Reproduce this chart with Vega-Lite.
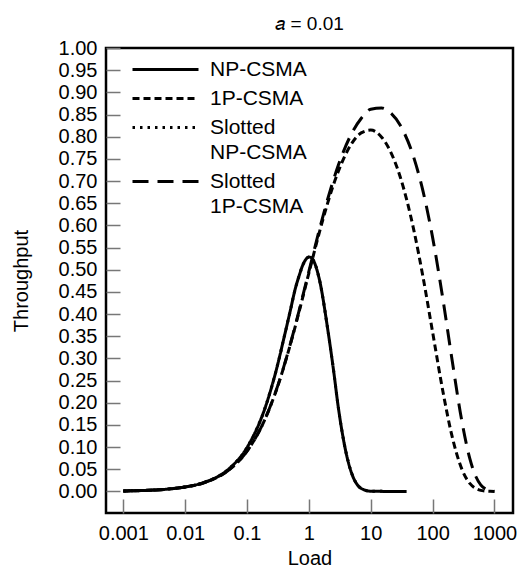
{
  "$schema": "https://vega.github.io/schema/vega-lite/v6.json",
  "width": 407,
  "height": 465,
  "autosize": "none",
  "padding": {"left": 106, "top": 48, "right": 7, "bottom": 57},
  "background": "white",
  "title": {"text": "𝑎 = 0.01", "fontSize": 19, "fontWeight": "normal", "font": "Liberation Sans", "offset": 4, "color": "black"},
  "data": {"values": [
    {"G": 0.001, "S": 0.001, "series": "Slotted NP-CSMA"},
    {"G": 0.002, "S": 0.002, "series": "Slotted NP-CSMA"},
    {"G": 0.005, "S": 0.005, "series": "Slotted NP-CSMA"},
    {"G": 0.01, "S": 0.01, "series": "Slotted NP-CSMA"},
    {"G": 0.02, "S": 0.02, "series": "Slotted NP-CSMA"},
    {"G": 0.05, "S": 0.0499, "series": "Slotted NP-CSMA"},
    {"G": 0.1, "S": 0.0989, "series": "Slotted NP-CSMA"},
    {"G": 0.2, "S": 0.1921, "series": "Slotted NP-CSMA"},
    {"G": 0.3, "S": 0.276, "series": "Slotted NP-CSMA"},
    {"G": 0.4, "S": 0.349, "series": "Slotted NP-CSMA"},
    {"G": 0.5, "S": 0.4072, "series": "Slotted NP-CSMA"},
    {"G": 0.6, "S": 0.456, "series": "Slotted NP-CSMA"},
    {"G": 0.7, "S": 0.4876, "series": "Slotted NP-CSMA"},
    {"G": 0.8, "S": 0.511, "series": "Slotted NP-CSMA"},
    {"G": 0.9, "S": 0.5238, "series": "Slotted NP-CSMA"},
    {"G": 1, "S": 0.5287, "series": "Slotted NP-CSMA"},
    {"G": 1.1, "S": 0.527, "series": "Slotted NP-CSMA"},
    {"G": 1.2, "S": 0.5193, "series": "Slotted NP-CSMA"},
    {"G": 1.5, "S": 0.4741, "series": "Slotted NP-CSMA"},
    {"G": 2, "S": 0.3691, "series": "Slotted NP-CSMA"},
    {"G": 2.5, "S": 0.274, "series": "Slotted NP-CSMA"},
    {"G": 3, "S": 0.1882, "series": "Slotted NP-CSMA"},
    {"G": 4, "S": 0.0867, "series": "Slotted NP-CSMA"},
    {"G": 5, "S": 0.038, "series": "Slotted NP-CSMA"},
    {"G": 6, "S": 0.016, "series": "Slotted NP-CSMA"},
    {"G": 7, "S": 0.0067, "series": "Slotted NP-CSMA"},
    {"G": 10, "S": 0.0005, "series": "Slotted NP-CSMA"},
    {"G": 20, "S": 0, "series": "Slotted NP-CSMA"},
    {"G": 38, "S": 0, "series": "Slotted NP-CSMA"},

    {"G": 0.001, "S": 0.001, "series": "NP-CSMA"},
    {"G": 0.002, "S": 0.002, "series": "NP-CSMA"},
    {"G": 0.005, "S": 0.005, "series": "NP-CSMA"},
    {"G": 0.01, "S": 0.01, "series": "NP-CSMA"},
    {"G": 0.02, "S": 0.02, "series": "NP-CSMA"},
    {"G": 0.05, "S": 0.0499, "series": "NP-CSMA"},
    {"G": 0.1, "S": 0.0989, "series": "NP-CSMA"},
    {"G": 0.2, "S": 0.1921, "series": "NP-CSMA"},
    {"G": 0.3, "S": 0.276, "series": "NP-CSMA"},
    {"G": 0.4, "S": 0.349, "series": "NP-CSMA"},
    {"G": 0.5, "S": 0.4072, "series": "NP-CSMA"},
    {"G": 0.6, "S": 0.456, "series": "NP-CSMA"},
    {"G": 0.7, "S": 0.4876, "series": "NP-CSMA"},
    {"G": 0.8, "S": 0.511, "series": "NP-CSMA"},
    {"G": 0.9, "S": 0.5238, "series": "NP-CSMA"},
    {"G": 1, "S": 0.5287, "series": "NP-CSMA"},
    {"G": 1.1, "S": 0.527, "series": "NP-CSMA"},
    {"G": 1.2, "S": 0.5193, "series": "NP-CSMA"},
    {"G": 1.5, "S": 0.4741, "series": "NP-CSMA"},
    {"G": 2, "S": 0.3691, "series": "NP-CSMA"},
    {"G": 2.5, "S": 0.274, "series": "NP-CSMA"},
    {"G": 3, "S": 0.1882, "series": "NP-CSMA"},
    {"G": 4, "S": 0.0867, "series": "NP-CSMA"},
    {"G": 5, "S": 0.038, "series": "NP-CSMA"},
    {"G": 6, "S": 0.016, "series": "NP-CSMA"},
    {"G": 7, "S": 0.0067, "series": "NP-CSMA"},
    {"G": 10, "S": 0.0005, "series": "NP-CSMA"},
    {"G": 20, "S": 0, "series": "NP-CSMA"},
    {"G": 38, "S": 0, "series": "NP-CSMA"},

    {"G": 0.001, "S": 0.001, "series": "1P-CSMA"},
    {"G": 0.002, "S": 0.002, "series": "1P-CSMA"},
    {"G": 0.005, "S": 0.005, "series": "1P-CSMA"},
    {"G": 0.01, "S": 0.0099, "series": "1P-CSMA"},
    {"G": 0.02, "S": 0.0196, "series": "1P-CSMA"},
    {"G": 0.05, "S": 0.0476, "series": "1P-CSMA"},
    {"G": 0.1, "S": 0.0907, "series": "1P-CSMA"},
    {"G": 0.2, "S": 0.1661, "series": "1P-CSMA"},
    {"G": 0.3, "S": 0.2295, "series": "1P-CSMA"},
    {"G": 0.5, "S": 0.3306, "series": "1P-CSMA"},
    {"G": 0.7, "S": 0.4072, "series": "1P-CSMA"},
    {"G": 1, "S": 0.4925, "series": "1P-CSMA"},
    {"G": 1.5, "S": 0.5875, "series": "1P-CSMA"},
    {"G": 2, "S": 0.6491, "series": "1P-CSMA"},
    {"G": 3, "S": 0.7223, "series": "1P-CSMA"},
    {"G": 5, "S": 0.786, "series": "1P-CSMA"},
    {"G": 7, "S": 0.8085, "series": "1P-CSMA"},
    {"G": 10, "S": 0.8148, "series": "1P-CSMA"},
    {"G": 15, "S": 0.7989, "series": "1P-CSMA"},
    {"G": 20, "S": 0.7717, "series": "1P-CSMA"},
    {"G": 30, "S": 0.7091, "series": "1P-CSMA"},
    {"G": 50, "S": 0.5877, "series": "1P-CSMA"},
    {"G": 70, "S": 0.4835, "series": "1P-CSMA"},
    {"G": 100, "S": 0.3594, "series": "1P-CSMA"},
    {"G": 150, "S": 0.2184, "series": "1P-CSMA"},
    {"G": 200, "S": 0.1326, "series": "1P-CSMA"},
    {"G": 300, "S": 0.0488, "series": "1P-CSMA"},
    {"G": 400, "S": 0.018, "series": "1P-CSMA"},
    {"G": 500, "S": 0.0066, "series": "1P-CSMA"},
    {"G": 600, "S": 0.0024, "series": "1P-CSMA"},
    {"G": 700, "S": 0.0009, "series": "1P-CSMA"},
    {"G": 850, "S": 0.0002, "series": "1P-CSMA"},
    {"G": 1000, "S": 0, "series": "1P-CSMA"},

    {"G": 0.001, "S": 0.001, "series": "Slotted 1P-CSMA"},
    {"G": 0.002, "S": 0.002, "series": "Slotted 1P-CSMA"},
    {"G": 0.005, "S": 0.005, "series": "Slotted 1P-CSMA"},
    {"G": 0.01, "S": 0.0099, "series": "Slotted 1P-CSMA"},
    {"G": 0.02, "S": 0.0196, "series": "Slotted 1P-CSMA"},
    {"G": 0.05, "S": 0.0476, "series": "Slotted 1P-CSMA"},
    {"G": 0.1, "S": 0.0908, "series": "Slotted 1P-CSMA"},
    {"G": 0.2, "S": 0.1664, "series": "Slotted 1P-CSMA"},
    {"G": 0.3, "S": 0.2302, "series": "Slotted 1P-CSMA"},
    {"G": 0.5, "S": 0.3319, "series": "Slotted 1P-CSMA"},
    {"G": 0.7, "S": 0.4095, "series": "Slotted 1P-CSMA"},
    {"G": 1, "S": 0.496, "series": "Slotted 1P-CSMA"},
    {"G": 1.5, "S": 0.5937, "series": "Slotted 1P-CSMA"},
    {"G": 2, "S": 0.6578, "series": "Slotted 1P-CSMA"},
    {"G": 3, "S": 0.736, "series": "Slotted 1P-CSMA"},
    {"G": 5, "S": 0.8093, "series": "Slotted 1P-CSMA"},
    {"G": 7, "S": 0.841, "series": "Slotted 1P-CSMA"},
    {"G": 10, "S": 0.862, "series": "Slotted 1P-CSMA"},
    {"G": 15, "S": 0.8648, "series": "Slotted 1P-CSMA"},
    {"G": 20, "S": 0.8561, "series": "Slotted 1P-CSMA"},
    {"G": 30, "S": 0.8256, "series": "Slotted 1P-CSMA"},
    {"G": 50, "S": 0.7517, "series": "Slotted 1P-CSMA"},
    {"G": 70, "S": 0.6771, "series": "Slotted 1P-CSMA"},
    {"G": 100, "S": 0.5729, "series": "Slotted 1P-CSMA"},
    {"G": 150, "S": 0.4254, "series": "Slotted 1P-CSMA"},
    {"G": 200, "S": 0.3095, "series": "Slotted 1P-CSMA"},
    {"G": 300, "S": 0.1554, "series": "Slotted 1P-CSMA"},
    {"G": 400, "S": 0.0739, "series": "Slotted 1P-CSMA"},
    {"G": 500, "S": 0.0336, "series": "Slotted 1P-CSMA"},
    {"G": 600, "S": 0.0148, "series": "Slotted 1P-CSMA"},
    {"G": 700, "S": 0.0063, "series": "Slotted 1P-CSMA"},
    {"G": 800, "S": 0.0027, "series": "Slotted 1P-CSMA"},
    {"G": 1000, "S": 0.0005, "series": "Slotted 1P-CSMA"}
  ]},
  "mark": {"type": "line", "color": "black", "strokeWidth": 3, "clip": true, "interpolate": "monotone"},
  "encoding": {
    "x": {
      "field": "G", "type": "quantitative",
      "scale": {"type": "log", "domain": [0.000525, 1995], "nice": false},
      "axis": {"title": "Load", "values": [0.001, 0.01, 0.1, 1, 10, 100, 1000], "format": "~g", "labelPadding": 24, "titlePadding": 5}
    },
    "y": {
      "field": "S", "type": "quantitative",
      "scale": {"domain": [-0.0487, 1.0], "nice": false, "zero": false},
      "axis": {"title": "Throughput", "values": [0, 0.05, 0.1, 0.15, 0.2, 0.25, 0.3, 0.35, 0.4, 0.45, 0.5, 0.55, 0.6, 0.65, 0.7, 0.75, 0.8, 0.85, 0.9, 0.95, 1.0], "format": ".2f", "labelPadding": 23, "titlePadding": 27}
    },
    "strokeDash": {
      "field": "series", "type": "nominal",
      "scale": {"domain": ["NP-CSMA", "1P-CSMA", "Slotted NP-CSMA", "Slotted 1P-CSMA"], "range": [[1, 0], [7, 4], [2.5, 5], [16, 9]]},
      "legend": {
        "title": null, "orient": "none", "legendX": 47, "legendY": 9,
        "symbolType": "M-3,0H3", "symbolSize": 484, "symbolStrokeWidth": 3, "symbolStrokeColor": "black", "symbolFillColor": "transparent",
        "labelFontSize": 21, "labelFont": "Liberation Sans", "labelColor": "black", "labelOffset": 32, "labelLimit": 300,
        "rowPadding": 6, "padding": 0,
        "labelExpr": "datum.label == 'Slotted NP-CSMA' ? ['Slotted', 'NP-CSMA'] : datum.label == 'Slotted 1P-CSMA' ? ['Slotted', '1P-CSMA'] : datum.label"
      }
    }
  },
  "config": {
    "font": "Liberation Sans",
    "view": {"stroke": "black", "strokeWidth": 2.5},
    "axis": {
      "grid": false, "domain": false, "tickSize": -14, "tickColor": "#777", "tickWidth": 1.5,
      "labelFontSize": 20, "labelColor": "black", "labelFont": "Liberation Sans",
      "titleFontSize": 20, "titleFontWeight": "normal", "titleColor": "black", "titleFont": "Liberation Sans"
    },
    "style": {"guide-label": {"lineHeight": 25}}
  }
}
